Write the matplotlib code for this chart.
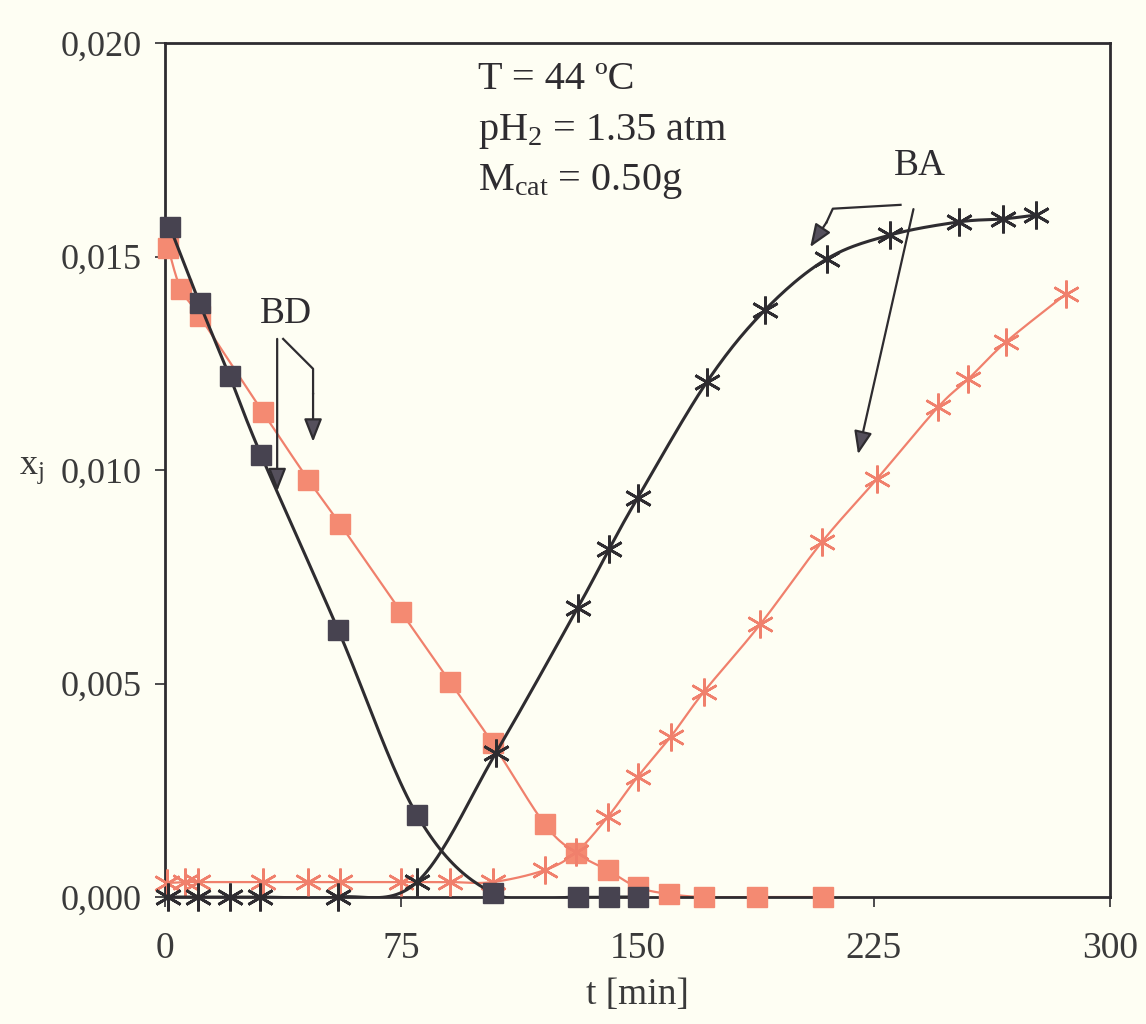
import matplotlib
matplotlib.use("Agg")
import matplotlib.pyplot as plt
import numpy as np

# --- data ----------------------------------------------------------------- #
# BD, dark series (squares)
bd_dark_t = [1.5, 11, 20.5, 30.5, 55, 80, 104, 131, 141, 150]
bd_dark_x = [0.0157, 0.0139, 0.0122, 0.01035, 0.00625, 0.00192, 0.0001, 0.0, 0.0, 0.0]
# BD, pink series (squares)
bd_pink_t = [1, 5, 11, 31, 45.5, 55.5, 75, 90.5, 104, 120.5, 130.5, 140.5, 150, 160, 171, 188, 209]
bd_pink_x = [0.0152, 0.01424, 0.0136, 0.01136, 0.00977, 0.00874, 0.00667, 0.00504, 0.0036,
             0.00171, 0.00103, 0.00063, 0.00023, 0.00007, 0.0, 0.0, 0.0]
# BA, dark series (asterisks)
ba_dark_t = [1, 10.5, 20.5, 30, 55, 80, 105, 131, 141, 150, 172, 190.5, 210, 230, 252, 266, 276.5]
ba_dark_x = [0.0, 0.0, 0.0, 0.0, 0.0, 0.00035, 0.00337, 0.00677, 0.00815, 0.00934, 0.01206,
             0.01375, 0.01494, 0.0155, 0.01581, 0.01588, 0.01597]
# BA, pink series (asterisks)
ba_pink_t = [0.6, 6.5, 10.5, 31, 45.5, 55.5, 75, 90.5, 104, 120.5, 130.5, 140.5, 150, 160.5,
             171, 189, 208.5, 226, 245.5, 255, 267, 286]
ba_pink_x = [0.00033, 0.00035, 0.00035, 0.00035, 0.00035, 0.00035, 0.00035, 0.00035, 0.00035,
             0.00063, 0.00105, 0.00187, 0.00281, 0.00375, 0.0048, 0.00639, 0.00831, 0.00979,
             0.01148, 0.01213, 0.013, 0.01412]

x_ticks = [0, 75, 150, 225, 300]
y_ticks = [0.0, 0.005, 0.010, 0.015, 0.020]
y_tick_labels = ["0,000", "0,005", "0,010", "0,015", "0,020"]
conditions = ["T = 44 ºC", "pH$_2$ = 1.35 atm", "M$_{cat}$ = 0.50g"]

BG = "#fefef3"
DARK = "#2e2c30"
DARK_SQ = "#474350"
PINK = "#f0806c"
PINK_SQ = "#f48a72"
SERIF = "Liberation Serif"

plt.rcParams["font.family"] = SERIF
plt.rcParams["mathtext.default"] = "regular"


def smooth(t, x, n=24):
    """Excel-style smoothed line (cubic Bezier with Catmull-Rom tangents)."""
    pts = np.column_stack([t, x]).astype(float)
    ext = np.vstack([pts[0], pts, pts[-1]])
    s = np.linspace(0, 1, n)[:, None]
    segs = []
    for i in range(len(pts) - 1):
        p0, p1, p2, p3 = ext[i], ext[i + 1], ext[i + 2], ext[i + 3]
        c1 = p1 + (p2 - p0) / 6
        c2 = p2 - (p3 - p1) / 6
        segs.append((1 - s) ** 3 * p1 + 3 * (1 - s) ** 2 * s * c1
                    + 3 * (1 - s) * s ** 2 * c2 + s ** 3 * p2)
    curve = np.vstack(segs)
    return curve[:, 0], curve[:, 1]


fig = plt.figure(figsize=(11.46, 10.24), dpi=100, facecolor=BG)
ax = fig.add_axes([0.1440, 0.1240, 0.8246, 0.8340], facecolor=BG)

star = (6, 2, 0)

# pink series first, dark on top
ax.plot(*smooth(bd_pink_t, bd_pink_x), color=PINK, lw=1.6, zorder=2)
ax.plot(bd_pink_t, bd_pink_x, ls="none", marker="s", ms=15, mfc=PINK_SQ, mec=PINK_SQ,
        zorder=3, clip_on=False)
ax.plot(*smooth(ba_pink_t, ba_pink_x), color=PINK, lw=1.6, zorder=2)
ax.plot(ba_pink_t, ba_pink_x, ls="none", marker=star, ms=20, mec=PINK, mew=1.8,
        zorder=3, clip_on=False)

ax.plot(*smooth(bd_dark_t, bd_dark_x), color=DARK, lw=2.2, zorder=4)
ax.plot(bd_dark_t, bd_dark_x, ls="none", marker="s", ms=15, mfc=DARK_SQ, mec=DARK_SQ,
        zorder=5, clip_on=False)
ax.plot(*smooth(ba_dark_t, ba_dark_x), color=DARK, lw=2.2, zorder=4)
ax.plot(ba_dark_t, ba_dark_x, ls="none", marker=star, ms=20, mec=DARK, mew=2.0,
        zorder=5, clip_on=False)

# labels with arrows
arrow_kw = dict(arrowstyle="-|>,head_length=1.4,head_width=0.55", color=DARK,
                fc="#55505c", lw=1.6, shrinkA=0, shrinkB=0)
ax.text(30.0, 0.01345, "BD", fontsize=27, color=DARK, va="baseline", zorder=6)
ax.annotate("", xy=(35.6, 0.0095), xytext=(35.6, 0.01307), arrowprops=arrow_kw, zorder=6)
ax.plot([37.5, 47.0, 47.0], [0.01307, 0.01237, 0.0118], color=DARK, lw=1.6, zorder=6)
ax.annotate("", xy=(47.0, 0.01066), xytext=(47.0, 0.0118), arrowprops=arrow_kw, zorder=6)

ax.text(231.5, 0.01691, "BA", fontsize=27, color=DARK, va="baseline", zorder=6)
ax.plot([233.5, 212.0, 210.0], [0.01621, 0.01612, 0.0158], color=DARK, lw=1.6, zorder=6)
ax.annotate("", xy=(204.8, 0.01522), xytext=(210.0, 0.0158), arrowprops=arrow_kw, zorder=6)
ax.annotate("", xy=(220.0, 0.01037), xytext=(237.6, 0.01611), arrowprops=arrow_kw, zorder=6)

for i, line in enumerate(conditions):
    ax.text(99.5, 0.01892 - i * 0.00118, line, fontsize=29, color=DARK, va="baseline")

ax.set_xlim(0, 300)
ax.set_ylim(0, 0.020)
ax.set_xticks(x_ticks)
ax.set_xticklabels([str(v) for v in x_ticks])
ax.set_yticks(y_ticks)
ax.set_yticklabels(y_tick_labels)
ax.tick_params(axis="both", direction="out", length=7, width=1.2, color=DARK,
               labelsize=26, labelcolor="#3a3a3a")
ax.tick_params(axis="x", pad=18, labelsize=27)
ax.tick_params(axis="y", pad=10)
for sp in ax.spines.values():
    sp.set_color(DARK)
    sp.set_linewidth(2.0)

ax.set_xlabel("t [min]", fontsize=27, color="#3a3a3a", labelpad=8)
fig.text(0.017, 1 - 470 / 1024, "x$_j$", fontsize=26, color="#3a3a3a", va="center")

fig.savefig("out.png", dpi=100, facecolor=BG)
